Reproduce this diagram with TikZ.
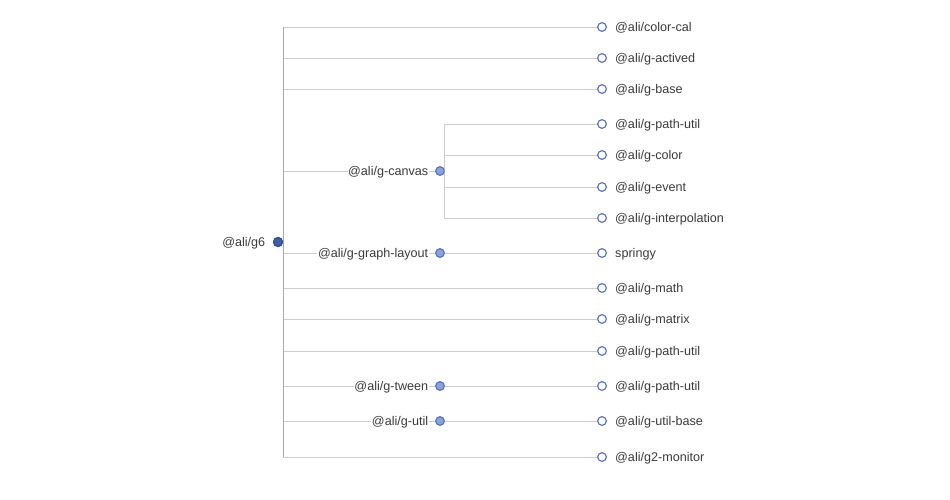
\documentclass[tikz,border=0pt]{standalone}
\usepackage{fontspec}
\setmainfont{Liberation Sans}
\definecolor{edgec}{HTML}{CCCCCC}
\definecolor{trunkc}{HTML}{A8A8A8}
\definecolor{blueline}{HTML}{5470C6}
\definecolor{midfill}{HTML}{8DA3D8}
\definecolor{rootfill}{HTML}{3D5FA8}
\definecolor{rootline}{HTML}{2E4888}
\definecolor{txt}{HTML}{3A3A3A}
\tikzset{
  edge/.style={draw=edgec, line width=0.9pt},
  trunk/.style={draw=trunkc, line width=0.9pt},
  leafdot/.style={circle, draw=blueline, fill=white, line width=1pt, minimum size=8.5pt, inner sep=0pt},
  middot/.style={circle, draw=blueline, fill=midfill, line width=1pt, minimum size=8.5pt, inner sep=0pt},
  rootdot/.style={circle, draw=rootline, fill=rootfill, line width=1pt, minimum size=9pt, inner sep=0pt},
  rlabel/.style={anchor=west, inner sep=0pt, text=txt, font=\fontsize{12.6}{14}\selectfont, yshift=-1pt},
  llabel/.style={anchor=east, inner sep=0.6pt, fill=white, text=txt, font=\fontsize{12.6}{14}\selectfont, yshift=-1pt},
}
\begin{document}
\begin{tikzpicture}[x=1pt, y=-1pt]
\useasboundingbox (0,0) rectangle (950,500);
% root
\node[rootdot] (root) at (278,242) {};
\coordinate (rt) at (283.5,242);
% depth-1 internal nodes
\node[middot] (canvas) at (440,171) {};
\node[middot] (layout) at (440,253) {};
\node[middot] (tween) at (440,386) {};
\node[middot] (util) at (440,421) {};
\coordinate (ct) at (444.5,171);
% leaves
\foreach \n/\y/\t in {a/27/{@ali/color-cal}, b/58/{@ali/g-actived}, c/89/{@ali/g-base},
  d/124/{@ali/g-path-util}, e/155/{@ali/g-color}, f/187/{@ali/g-event}, g/218/{@ali/g-interpolation},
  h/253/{springy}, i/288/{@ali/g-math}, j/319/{@ali/g-matrix}, k/351/{@ali/g-path-util},
  l/386/{@ali/g-path-util}, m/421/{@ali/g-util-base}, n/457/{@ali/g2-monitor}}{
  \node[leafdot] (\n) at (602,\y) {};
  \node[rlabel] (\n l) at (615,\y) {\t};
}
% edges from root
\foreach \c in {a,b,c,canvas,layout,i,j,k,tween,util,n}{
  \draw[edge] (rt) |- (\c);
}
\draw[trunk] (283.5,27) -- (rt) -- (283.5,457);
% edges from canvas
\foreach \c in {d,e,f,g}{
  \draw[edge] (ct) |- (\c);
}
\draw[edge] (layout) -- (h);
\draw[edge] (tween) -- (l);
\draw[edge] (util) -- (m);
% labels over the edges
\node[llabel, fill=none] (rootl) at (266,242) {@ali/g6};
\node[llabel] (canvasl) at (429,171) {@ali/g-canvas};
\node[llabel] (layoutl) at (429,253) {@ali/g-graph-layout};
\node[llabel] (tweenl) at (429,386) {@ali/g-tween};
\node[llabel] (utill) at (429,421) {@ali/g-util};
% redraw dots on top
\node[rootdot] at (root) {};
\foreach \n in {canvas,layout,tween,util}{\node[middot] at (\n) {};}
\foreach \n in {a,b,c,d,e,f,g,h,i,j,k,l,m,n}{\node[leafdot] at (\n) {};}
\end{tikzpicture}
\end{document}
